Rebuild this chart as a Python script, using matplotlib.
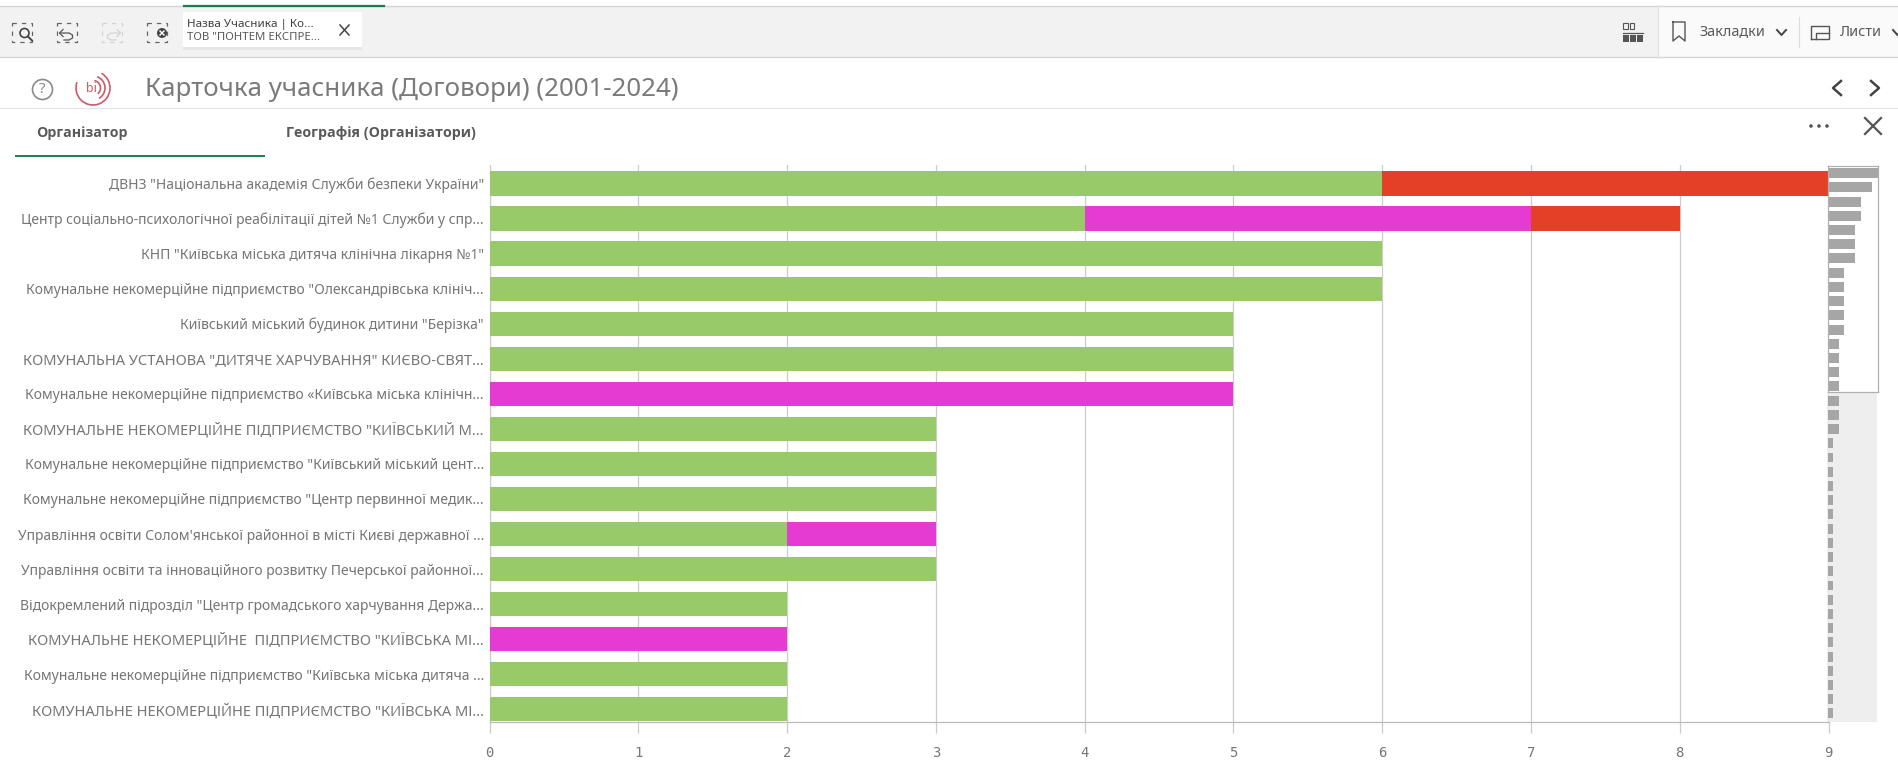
import numpy as np
import matplotlib
matplotlib.use('Agg')
import matplotlib.pyplot as plt
from matplotlib.patches import Rectangle, Circle, Arc

plt.rcParams['font.family'] = ['Noto Sans', 'DejaVu Sans']

# Chart data
organizers = [
    'ДВНЗ "Національна академія Служби безпеки України"',
    'Центр соціально-психологічної реабілітації дітей №1 Служби у спр...',
    'КНП "Київська міська дитяча клінічна лікарня №1"',
    'Комунальне некомерційне підприємство "Олександрівська клініч...',
    'Київський міський будинок дитини "Берізка"',
    'КОМУНАЛЬНА УСТАНОВА "ДИТЯЧЕ ХАРЧУВАННЯ" КИЄВО-СВЯТ...',
    'Комунальне некомерційне підприємство «Київська міська клінічн...',
    'КОМУНАЛЬНЕ НЕКОМЕРЦІЙНЕ ПІДПРИЄМСТВО "КИЇВСЬКИЙ М...',
    'Комунальне некомерційне підприємство "Київський міський цент...',
    'Комунальне некомерційне підприємство "Центр первинної медик...',
    "Управління освіти Солом'янської районної в місті Києві державної ...",
    'Управління освіти та інноваційного розвитку Печерської районної...',
    'Відокремлений підрозділ "Центр громадського харчування Держа...',
    'КОМУНАЛЬНЕ НЕКОМЕРЦІЙНЕ  ПІДПРИЄМСТВО "КИЇВСЬКА МІ...',
    'Комунальне некомерційне підприємство "Київська міська дитяча ...',
    'КОМУНАЛЬНЕ НЕКОМЕРЦІЙНЕ ПІДПРИЄМСТВО "КИЇВСЬКА МІ...',
]
green_vals = [6, 4, 6, 6, 5, 5, 0, 3, 3, 3, 2, 3, 2, 0, 2, 2]
magenta_vals = [0, 3, 0, 0, 0, 0, 5, 0, 0, 0, 1, 0, 0, 2, 0, 0]
red_vals = [3, 1, 0, 0, 0, 0, 0, 0, 0, 0, 0, 0, 0, 0, 0, 0]
x_ticks = [0, 1, 2, 3, 4, 5, 6, 7, 8, 9]

# Scrollbar overview: totals of all 39 organizers
overview_vals = [9, 8, 6, 6, 5, 5, 5, 3, 3, 3, 3, 3, 2, 2, 2, 2, 2, 2, 2] + [1] * 20

W, H = 1898, 775
fig = plt.figure(figsize=(W / 100, H / 100), dpi=100, facecolor='white')


def px_axes(left, top, right, bottom):
    return fig.add_axes([left / W, 1 - bottom / H, (right - left) / W, (bottom - top) / H])


# UI layer in pixel coordinates
ui = fig.add_axes([0, 0, 1, 1])
ui.set_xlim(0, W)
ui.set_ylim(H, 0)
ui.axis('off')

# Toolbar
ui.add_patch(Rectangle((0, 6), 1658, 51, fc='#f2f2f2', ec='none'))
ui.add_patch(Rectangle((1658, 6), 240, 51, fc='#fafafa', ec='none'))
ui.plot([0, W], [6, 6], color='#d4d4d4', lw=1)
ui.plot([0, W], [57, 57], color='#d4d4d4', lw=1)
ui.plot([1658, 1658], [6, 57], color='#e0e0e0', lw=0.8)
ui.plot([184, 384], [5.5, 5.5], color='#1f7a4d', lw=1.6)
ui.plot([0, W], [108, 108], color='#e4e4e4', lw=0.8)

# Selection tools
for bx, col in [(12, '#666666'), (57, '#666666'), (102, '#d4d4d4'), (147, '#666666')]:
    ui.add_patch(Rectangle((bx, 22.5), 20, 19, fc='none', ec=col, lw=0.9, ls=(0, (3.5, 4))))
ui.add_patch(Circle((24.5, 33), 4.5, fc='#f2f2f2', ec='#444444', lw=1.2))
ui.plot([28, 32], [36.5, 40.5], color='#444444', lw=1.4)
ui.plot([60, 69, 72.5, 72.5, 69, 64], [33, 33, 35, 38, 40, 40], color='#555555', lw=0.9)
ui.plot([63, 59.5, 63], [29.5, 33, 36.5], color='#555555', lw=0.9)
ui.plot([120, 111, 107.5, 107.5, 111, 116], [33, 33, 35, 38, 40, 40], color='#d4d4d4', lw=0.9)
ui.plot([117, 120.5, 117], [29.5, 33, 36.5], color='#d4d4d4', lw=0.9)
ui.add_patch(Circle((162, 33), 5, fc='#444444', ec='none', zorder=3))
ui.plot([160, 164], [31, 35], color='white', lw=1, zorder=4)
ui.plot([160, 164], [35, 31], color='white', lw=1, zorder=4)

# Current selection chip
ui.add_patch(Rectangle((183, 14), 179, 36, fc='#e6e6e6', ec='none'))
ui.add_patch(Rectangle((183, 12), 179, 35, fc='white', ec='none'))
ui.text(187, 24, 'Назва Учасника | Ко...', fontsize=8.4, color='#404040', va='center')
ui.text(187, 38, 'ТОВ "ПОНТЕМ ЕКСПРЕ...', fontsize=8.2, color='#595959', va='center')
ui.plot([340, 349], [25, 35], color='#444444', lw=1.1)
ui.plot([340, 349], [35, 25], color='#444444', lw=1.1)

# Right side of the toolbar
for i in range(2):
    ui.add_patch(Rectangle((1623.5 + 6.5 * i, 23), 4.5, 6, fc='none', ec='#555555', lw=0.8))
ui.plot([1623, 1643], [32.5, 32.5], color='#555555', lw=0.9)
for i in range(3):
    ui.add_patch(Rectangle((1623 + 7.2 * i, 35), 5.6, 7, fc='#555555', ec='none'))
ui.plot([1673, 1673, 1679, 1685, 1685, 1673], [22, 41, 36, 41, 22, 22], color='#555555', lw=1)
ui.text(1700, 32, 'Закладки', fontsize=10.4, color='#595959', va='center')
ui.plot([1777, 1781.5, 1786], [30, 35, 30], color='#444444', lw=1.4)
ui.plot([1799, 1799], [17, 47], color='#dddddd', lw=0.8)
ui.plot([1811, 1811, 1829, 1829, 1811], [39, 26, 26, 39, 39], color='#555555', lw=1)
ui.plot([1816, 1816, 1829], [39, 33, 33], color='#555555', lw=1)
ui.text(1840, 32, 'Листи', fontsize=10.4, color='#595959', va='center')
ui.plot([1893, 1897.5, 1902], [30, 35, 30], color='#444444', lw=1.4)

# Title row
ui.add_patch(Circle((42.5, 89.5), 10, fc='none', ec='#8a8a8a', lw=1.2))
ui.text(42.5, 89.5, '?', fontsize=11, color='#8a8a8a', ha='center', va='center')
for r, t1, t2 in [(17, -60, 200), (12, -70, 60), (7.5, -80, 50)]:
    ui.add_patch(Arc((93, 88), 2 * r, 2 * r, theta1=t1, theta2=t2, ec='#cc5a68', lw=1.2))
ui.text(91, 89, 'bi', fontsize=9, color='#cc5a68', ha='center', va='center', fontweight='bold')
ui.text(145, 89.5, 'Карточка учасника (Договори) (2001-2024)', fontsize=18.6, color='#7a7a7a', va='center')
ui.plot([1841, 1833, 1841], [81, 88, 95], color='#444444', lw=1.8)
ui.plot([1871, 1879, 1871], [81, 88, 95], color='#444444', lw=1.8)

# Tabs
ui.text(36, 133, 'Організатор', fontsize=10.2, color='#595959', va='center', family='Open Sans', fontweight='bold')
ui.text(286, 133, 'Географія (Організатори)', fontsize=10.3, color='#595959', va='center', family='Open Sans', fontweight='bold')
ui.plot([16, 264], [156, 156], color='#1f7a4d', lw=1.4)
for dx in [1811, 1819, 1827]:
    ui.add_patch(Circle((dx, 126), 1.8, fc='#555555', ec='none'))
ui.plot([1865, 1881], [118, 134], color='#555555', lw=1.6)
ui.plot([1865, 1881], [134, 118], color='#555555', lw=1.6)

# Main bar chart
ax = px_axes(489.5, 165, 1828.5, 722)
ax.patch.set_alpha(0)
y = np.arange(len(organizers))
green = np.array(green_vals)
magenta = np.array(magenta_vals)
red = np.array(red_vals)
ax.barh(y, green, height=0.69, color='#99ca6a', zorder=3)
ax.barh(y, magenta, left=green, height=0.69, color='#e53bd2', zorder=3)
ax.barh(y, red, left=green + magenta, height=0.69, color='#e34027', zorder=3)
ax.set_xlim(0, 9)
ax.set_ylim(15.36, -0.525)
ax.set_xticks(x_ticks)
ax.set_yticks(y)
ax.set_yticklabels(organizers, fontsize=10.05, color='#767676')
# uppercase names run wider in the original font
for lab in ax.get_yticklabels():
    if lab.get_text().startswith('КОМУНАЛЬН'):
        lab.set_fontsize(10.55)
ax.grid(axis='x', color='#cccccc', lw=0.9, zorder=0)
ax.tick_params(axis='y', length=0, pad=4)
ax.tick_params(axis='x', length=8, width=0.9, color='#cccccc', pad=9.5, labelsize=10,
               labelcolor='#767676', labelfontfamily='DejaVu Sans Mono')
for s in ['top', 'right']:
    ax.spines[s].set_visible(False)
ax.spines['left'].set_color('#cccccc')
ax.spines['left'].set_linewidth(0.9)
ax.spines['bottom'].set_color('#bbbbbb')
ax.spines['bottom'].set_linewidth(0.9)

# Scrollbar overview: background first, bars on top, then the viewport frame
ui.add_patch(Rectangle((1827.5, 392), 50, 330, fc='#eeeeee', ec='none', zorder=1))
mini = px_axes(1827.5, 166, 1877.5, 722)
mini.patch.set_visible(False)
mini.barh(np.arange(len(overview_vals)), overview_vals, height=0.7, color='#a6a6a6', zorder=3)
mini.set_xlim(0, 9)
mini.set_ylim(38.6, -0.5)
mini.set_xticks([])
mini.set_yticks([])
for s in mini.spines.values():
    s.set_visible(False)
frame_ax = px_axes(1827.5, 166, 1877.5, 392)
frame_ax.patch.set_visible(False)
frame_ax.set_xticks([])
frame_ax.set_yticks([])
for s in frame_ax.spines.values():
    s.set_color('#b0b0b0')
    s.set_linewidth(0.9)

fig.savefig('out.png', dpi=100)
